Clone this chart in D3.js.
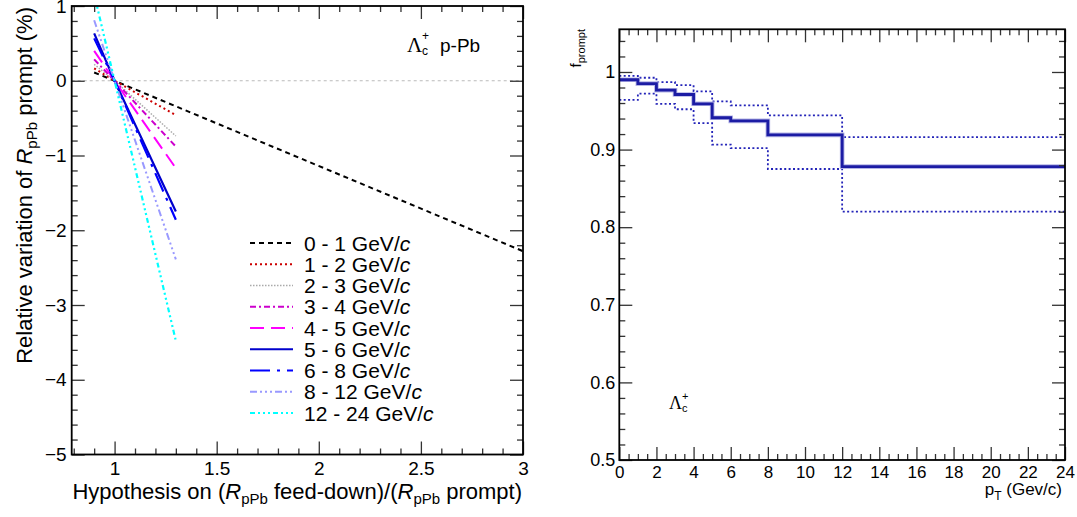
<!DOCTYPE html>
<html>
<head>
<meta charset="utf-8">
<script src="https://cdn.jsdelivr.net/npm/d3@7"></script>
<style>
  body { margin: 0; background: #fff; }
  svg { display: block; font-family: "Liberation Sans", Arial, Helvetica, sans-serif; }
</style>
</head>
<body>
<div id="chart"></div>
<script>
// ---- data ----
const ptBins = ["0 - 1", "1 - 2", "2 - 3", "3 - 4", "4 - 5", "5 - 6", "6 - 8", "8 - 12", "12 - 24"];
const hypShort = [0.9, 1.0, 1.3];
const hypLong = [0.9, 1.0, 3.0];   // the 0-1 GeV/c curve runs to 3
const relVariation = [
  [0.11, 0, -2.28],
  [0.166, 0, -0.46],
  [0.22, 0, -0.74],
  [0.286, 0, -0.88],
  [0.40, 0, -1.17],
  [0.634, 0, -1.75],
  [0.567, 0, -1.86],
  [0.81, 0, -2.39],
  [1.16, 0, -3.48]
];

const binEdges = [0, 1, 2, 3, 4, 5, 6, 8, 12, 24];
const fPrompt = [0.990, 0.985, 0.9765, 0.971, 0.959, 0.941, 0.937, 0.919, 0.878];
const fPromptUp = [0.995, 0.9926, 0.987, 0.983, 0.975, 0.962, 0.957, 0.944, 0.916];
const fPromptLow = [0.964, 0.972, 0.959, 0.952, 0.934, 0.9065, 0.902, 0.875, 0.820];

const leftXTicks = [1, 1.5, 2, 2.5, 3];
const leftYTicks = [-5, -4, -3, -2, -1, 0, 1];
const rightXTicks = d3.range(0, 25, 2);
const rightYTicks = [0.5, 0.6, 0.7, 0.8, 0.9, 1];

// line styles per pt bin
const lineColors = ["#000000", "#cc0000", "#aaaaaa", "#cc00cc", "#ff00ff", "#0000cc", "#0000ff", "#9999ff", "#00ffff"];
const lineDashes = ["5,4", "2,3", "1.5,1.5", "6,3,2,3", "14,7", null, "20,7,3,7", "7,3,2,3,2,3,2,3", "5,3,2,3,2,3,2,3"];
const lineWidths = [2, 2, 1.5, 2, 2, 2.2, 2.2, 2, 2.2];

const W = 1077, H = 517;
const svg = d3.select("#chart").append("svg").attr("width", W).attr("height", H);

// inward ticks on all four sides of a frame
function frameTicks(g, x, y, xMaj, xMin, yMaj, yMin, box) {
  const big = 13, small = 6;
  const t = [
    [d3.axisBottom(x), `translate(0,${box.bottom})`, xMaj, big],
    [d3.axisBottom(x), `translate(0,${box.bottom})`, xMin, small],
    [d3.axisTop(x), `translate(0,${box.top})`, xMaj, big],
    [d3.axisTop(x), `translate(0,${box.top})`, xMin, small],
    [d3.axisLeft(y), `translate(${box.left},0)`, yMaj, big],
    [d3.axisLeft(y), `translate(${box.left},0)`, yMin, small],
    [d3.axisRight(y), `translate(${box.right},0)`, yMaj, big],
    [d3.axisRight(y), `translate(${box.right},0)`, yMin, small]
  ];
  t.forEach(([ax, tr, vals, len]) => {
    const a = g.append("g").attr("transform", tr)
      .call(ax.tickValues(vals).tickSizeInner(-len).tickSizeOuter(0).tickFormat(""));
    a.select(".domain").remove();
    a.selectAll("line").attr("stroke", "#333").attr("stroke-width", 1.3);
  });
  g.append("rect")
    .attr("x", box.left).attr("y", box.top)
    .attr("width", box.right - box.left).attr("height", box.bottom - box.top)
    .attr("fill", "none").attr("stroke", "#000").attr("stroke-width", 1.8);
}

function tickLabels(g, axis, tr, vals, pad, size) {
  const a = g.append("g").attr("transform", tr)
    .call(axis.tickValues(vals).tickSize(0).tickPadding(pad).tickFormat(d3.format("")));
  a.select(".domain").remove();
  a.attr("font-size", size).attr("font-family", "Liberation Sans, Arial, sans-serif");
  a.selectAll("text").attr("fill", "#000");
  return a;
}

// ================= left panel =================
const L = { left: 71.7, right: 523, top: 6, bottom: 454.5 };
const xL = d3.scaleLinear().domain([0.79, 3]).range([L.left, L.right]);
const yL = d3.scaleLinear().domain([-5, 1]).range([L.bottom, L.top]);
const gL = svg.append("g");

gL.append("clipPath").attr("id", "clipL").append("rect")
  .attr("x", L.left).attr("y", L.top).attr("width", L.right - L.left).attr("height", L.bottom - L.top);

// zero reference line
gL.append("line")
  .attr("x1", xL(0.79)).attr("x2", xL(3)).attr("y1", yL(0)).attr("y2", yL(0))
  .attr("stroke", "#bbbbbb").attr("stroke-width", 1.2).attr("stroke-dasharray", "3,3");

const lineL = d3.line().x(d => xL(d[0])).y(d => yL(d[1]));
const curves = gL.append("g").attr("clip-path", "url(#clipL)");
relVariation.forEach((vals, i) => {
  const xs = i === 0 ? hypLong : hypShort;
  curves.append("path")
    .datum(xs.map((h, k) => [h, vals[k]]))
    .attr("d", lineL)
    .attr("fill", "none")
    .attr("stroke", lineColors[i])
    .attr("stroke-width", lineWidths[i])
    .attr("stroke-dasharray", lineDashes[i]);
});

frameTicks(gL, xL, yL,
  leftXTicks, d3.range(0.8, 3.001, 0.1).filter(v => Math.abs(v * 2 - Math.round(v * 2)) > 1e-6),
  leftYTicks, d3.range(-5, 1.001, 0.2).filter(v => Math.abs(v - Math.round(v)) > 1e-6),
  L);

tickLabels(gL, d3.axisBottom(xL), `translate(0,${L.bottom})`, leftXTicks, 7, 19);
tickLabels(gL, d3.axisLeft(yL), `translate(${L.left},0)`, leftYTicks, 5, 19);

// legend
const leg = gL.append("g");
ptBins.forEach((lab, i) => {
  const yy = 243 + i * 21.25;
  leg.append("line")
    .attr("x1", 250).attr("x2", 293).attr("y1", yy).attr("y2", yy)
    .attr("stroke", lineColors[i]).attr("stroke-width", lineWidths[i])
    .attr("stroke-dasharray", lineDashes[i]);
  const t = leg.append("text").attr("x", 304).attr("y", yy).attr("dy", "0.36em")
    .attr("font-size", 21);
  t.append("tspan").text(lab + " GeV/");
  t.append("tspan").attr("font-style", "italic").text("c");
});

// axis titles
const yTitle = gL.append("text")
  .attr("transform", `translate(32,7) rotate(-90)`)
  .attr("text-anchor", "end").attr("font-size", 22);
yTitle.append("tspan").text("Relative variation of ");
yTitle.append("tspan").attr("font-style", "italic").text("R");
yTitle.append("tspan").attr("font-size", 15).attr("dy", 5).text("pPb");
yTitle.append("tspan").attr("dy", -5).text(" prompt (%)");

const xTitle = gL.append("text")
  .attr("x", 522).attr("y", 499).attr("text-anchor", "end").attr("font-size", 22);
xTitle.append("tspan").text("Hypothesis on (");
xTitle.append("tspan").attr("font-style", "italic").text("R");
xTitle.append("tspan").attr("font-size", 15).attr("dy", 5).text("pPb");
xTitle.append("tspan").attr("dy", -5).text(" feed-down)/(");
xTitle.append("tspan").attr("font-style", "italic").text("R");
xTitle.append("tspan").attr("font-size", 15).attr("dy", 5).text("pPb");
xTitle.append("tspan").attr("dy", -5).text(" prompt)");

// Lambda_c^+ p-Pb label
gL.append("text").attr("x", 407).attr("y", 52).attr("font-size", 21)
  .attr("font-family", "Liberation Serif, Times New Roman, serif").text("Λ");
gL.append("text").attr("x", 422).attr("y", 40).attr("font-size", 12).text("+");
gL.append("text").attr("x", 422).attr("y", 55).attr("font-size", 12).text("c");
gL.append("text").attr("x", 440).attr("y", 52).attr("font-size", 19).text("p-Pb");

// ================= right panel =================
const R = { left: 619.3, right: 1065, top: 29.3, bottom: 460 };
const xR = d3.scaleLinear().domain([0, 24]).range([R.left, R.right]);
const yR = d3.scaleLinear().domain([0.5, 1.055]).range([R.bottom, R.top]);
const gR = svg.append("g");

const stepLine = d3.line().curve(d3.curveStepAfter).x(d => xR(d[0])).y(d => yR(d[1]));
const stepData = vals => binEdges.map((e, i) => [e, vals[Math.min(i, vals.length - 1)]]);

[fPromptUp, fPromptLow].forEach(vals => {
  gR.append("path").datum(stepData(vals)).attr("d", stepLine)
    .attr("fill", "none").attr("stroke", "#2323b8").attr("stroke-width", 1.8)
    .attr("stroke-dasharray", "2,2.4");
});
gR.append("path").datum(stepData(fPrompt)).attr("d", stepLine)
  .attr("fill", "none").attr("stroke", "#b4b4e6").attr("stroke-width", 4.6);
gR.append("path").datum(stepData(fPrompt)).attr("d", stepLine)
  .attr("fill", "none").attr("stroke", "#1c1ca4").attr("stroke-width", 2.8);

frameTicks(gR, xR, yR,
  rightXTicks, d3.range(0, 24.001, 0.5).filter(v => v % 2 !== 0),
  rightYTicks, d3.range(0.5, 1.05, 0.02).filter(v => Math.abs(v * 10 - Math.round(v * 10)) > 1e-6),
  R);

tickLabels(gR, d3.axisBottom(xR), `translate(0,${R.bottom})`, rightXTicks, 6, 17);
tickLabels(gR, d3.axisLeft(yR), `translate(${R.left},0)`, rightYTicks, 4, 18);

const fTitle = gR.append("text")
  .attr("transform", `translate(581,29) rotate(-90)`)
  .attr("text-anchor", "end").attr("font-size", 15);
fTitle.append("tspan").text("f");
fTitle.append("tspan").attr("font-size", 11).attr("dy", 4).text("prompt");

const pTitle = gR.append("text")
  .attr("x", 1062).attr("y", 495).attr("text-anchor", "end").attr("font-size", 17);
pTitle.append("tspan").text("p");
pTitle.append("tspan").attr("font-size", 12).attr("dy", 5).text("T");
pTitle.append("tspan").attr("dy", -5).text(" (Gev/c)");

gR.append("text").attr("x", 669).attr("y", 409).attr("font-size", 18)
  .attr("font-family", "Liberation Serif, Times New Roman, serif").text("Λ");
gR.append("text").attr("x", 682).attr("y", 400).attr("font-size", 11).text("+");
gR.append("text").attr("x", 682).attr("y", 412).attr("font-size", 11).text("c");
</script>
</body>
</html>
